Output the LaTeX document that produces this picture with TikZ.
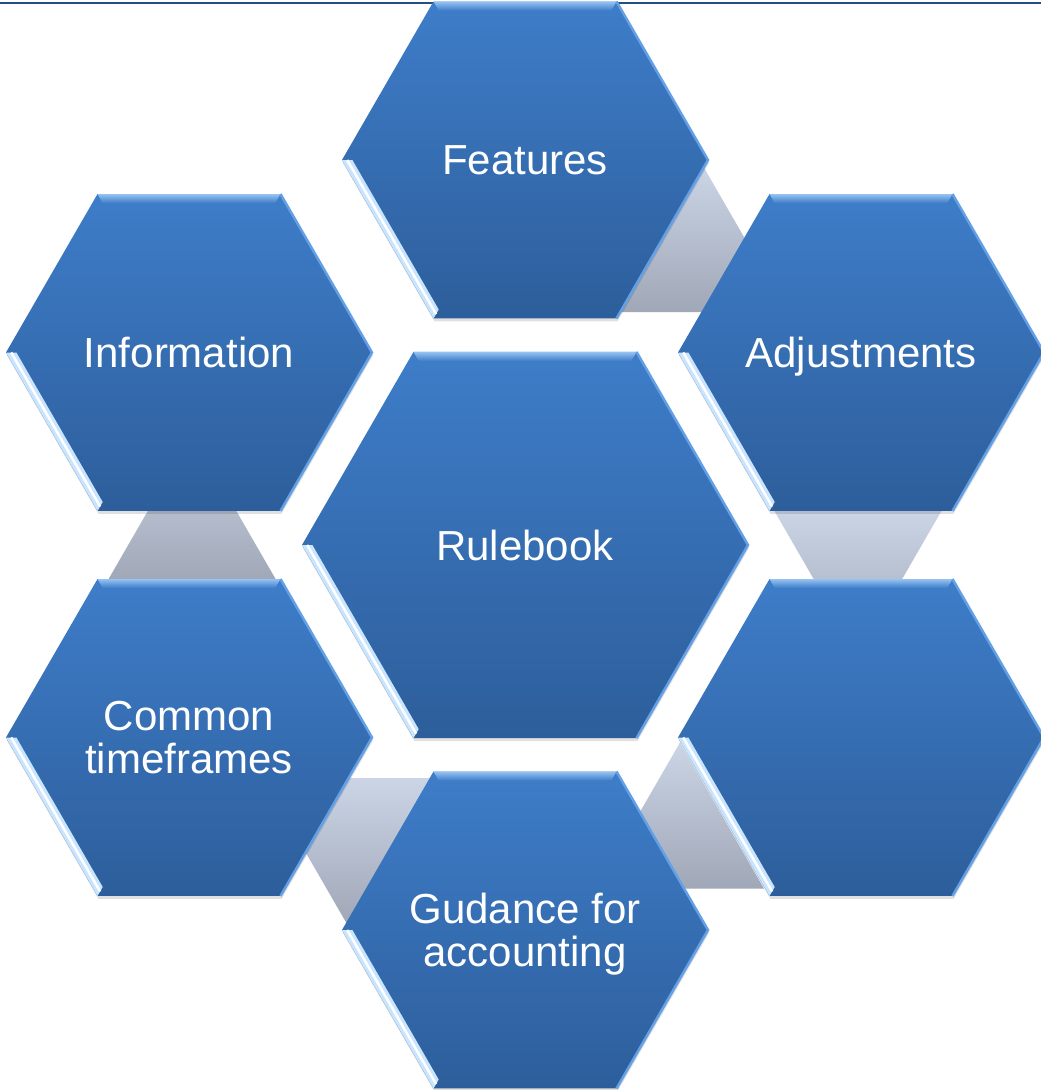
\documentclass[tikz,border=0pt]{standalone}
\usepackage{fontspec}
\setmainfont{Liberation Sans}
\definecolor{hexTop}{RGB}{62,125,201}
\definecolor{hexBot}{RGB}{45,94,155}
\definecolor{bevTop}{RGB}{150,195,242}
\definecolor{bevLow}{RGB}{200,228,255}
\definecolor{edgeLight}{RGB}{100,160,230}
\definecolor{conTop}{RGB}{203,213,230}
\definecolor{conBot}{RGB}{160,167,183}
\definecolor{topLine}{RGB}{36,78,132}
\tikzset{
  hextext/.style={text=white, font=\fontsize{42}{43}\selectfont, align=center, inner sep=0pt, text depth=0pt},
  connector/.style={top color=conTop, bottom color=conBot},
}
\newcommand{\hexcell}[5]{%
  \pgfmathsetmacro{\hR}{#4}%
  \pgfmathsetmacro{\hH}{0.8660254*#4}%
  \pgfmathsetmacro{\hRi}{#4-1.1547*9}%
  \pgfmathsetmacro{\hHi}{0.8660254*#4-9}%
  \begin{scope}[shift={(#2,#3)}]
    \fill[black,opacity=0.12,shift={(1,3)}] (-\hR,0) -- (-\hR/2,-\hH) -- (\hR/2,-\hH) -- (\hR,0) -- (\hR/2,\hH) -- (-\hR/2,\hH) -- cycle;
    \shade[top color=hexTop, bottom color=hexBot] (-\hR,0) -- (-\hR/2,-\hH) -- (\hR/2,-\hH) -- (\hR,0) -- (\hR/2,\hH) -- (-\hR/2,\hH) -- cycle;
    \shade[top color=bevTop, bottom color=hexTop] (-\hR/2,-\hH) -- (\hR/2,-\hH) -- (\hRi/2,-\hHi) -- (-\hRi/2,-\hHi) -- cycle;
    \fill[bevLow] (-\hR,0) -- (-\hR/2,\hH) -- (-\hRi/2,\hHi) -- (-\hRi,0) -- cycle;
    \draw[white, line width=2.5] ($(-\hR,0)!0.5!(-\hRi,0)$) -- ($(-\hR/2,\hH)!0.5!(-\hRi/2,\hHi)$);
    \draw[edgeLight, line width=2.5] (\hR/2,-\hH) -- (\hR,0) -- (\hR/2,\hH);
  \end{scope}
  \node[hextext] (#1) at (#2,#3) {#5};
}
\usetikzlibrary{calc}
\begin{document}
\begin{tikzpicture}[x=1pt,y=-1pt]
\useasboundingbox (0,0) rectangle (1041,1090);
\fill[white] (0,0) rectangle (1041,1090);
\coordinate (L0) at (0,3);
\coordinate (L1) at (1041,3);
\draw[topLine, line width=2.5] (L0) -- (L1);
% connectors (behind)
\coordinate (c1a) at (703,166);   \coordinate (c1b) at (618.7,312); \coordinate (c1c) at (787.3,312);
\coordinate (c2a) at (942.2,509.6); \coordinate (c2b) at (773.6,509.6); \coordinate (c2c) at (857.9,655.7);
\coordinate (c3a) at (764,888.6); \coordinate (c3b) at (680,742.6); \coordinate (c3c) at (595.6,888.7);
\coordinate (c4a) at (347,924); \coordinate (c4b) at (431.3,778); \coordinate (c4c) at (262.7,778);
\coordinate (c5a) at (107.8,580.4); \coordinate (c5b) at (276.4,580.4); \coordinate (c5c) at (192,434.3);
\foreach \k in {1,...,5} {
  \shade[connector] (c\k a) -- (c\k b) -- (c\k c) -- cycle;
}
% hexagons
\hexcell{features}{525}{160}{183}{Features}
\hexcell{information}{189}{352.5}{183}{Information}
\hexcell{adjustments}{861}{352.5}{183}{Adjustments}
\hexcell{timeframes}{189}{737.5}{183}{Common\\timeframes}
\hexcell{empty}{861}{737.5}{183}{}
\hexcell{guidance}{525}{930}{183}{Gudance for\\accounting}
\hexcell{rulebook}{525}{545}{223}{Rulebook}
\end{tikzpicture}
\end{document}
